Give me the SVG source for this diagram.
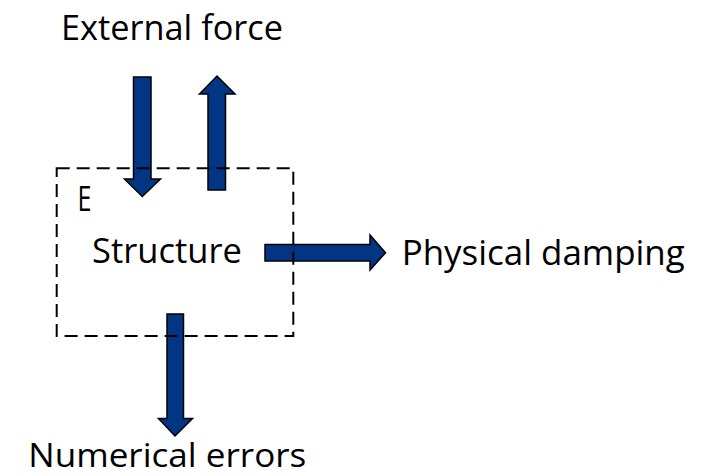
<svg xmlns="http://www.w3.org/2000/svg" width="708" height="476" viewBox="0 0 708 476">
<style>
.t{font-family:"Open Sans","Noto Sans","Liberation Sans",sans-serif;font-size:34px;fill:#000}
.a{fill:#023685;stroke:#000;stroke-width:1.5;stroke-linejoin:miter}
.box{fill:none;stroke:#000;stroke-width:2;stroke-dasharray:13 7}
</style>
<rect width="708" height="476" fill="#fff"/>
<g id="connectors">
<polygon class="a" points="133.5,77 151,77 151,179 160.5,179 142.3,196.5 124.5,179 133.5,179"/>
<polygon class="a" points="208,190 225.5,190 225.5,94 235,94 217,76 199.5,94 208,94"/>
<polygon class="a" points="265,244.5 370,244.5 370,235 385.5,252.7 370,270 370,261 265,261"/>
<polygon class="a" points="167,314 183.5,314 183.5,418.5 192.5,418.5 175,436 158.5,418.5 167,418.5"/>
</g>
<g id="structure">
<rect class="box" x="56.7" y="168.3" width="236.6" height="167.7"/>
<text class="t" x="77.5" y="210.5" textLength="14" lengthAdjust="spacingAndGlyphs">E</text>
<text class="t" x="92" y="263.3" textLength="150" lengthAdjust="spacingAndGlyphs">Structure</text>
</g>
<g id="external-force">
<text class="t" x="61" y="40" textLength="222" lengthAdjust="spacingAndGlyphs">External force</text>
</g>
<g id="physical-damping">
<text class="t" x="401.7" y="265" textLength="283" lengthAdjust="spacingAndGlyphs">Physical damping</text>
</g>
<g id="numerical-errors">
<text class="t" x="28.3" y="466.5" font-size="32" style="font-size:32px" textLength="278" lengthAdjust="spacingAndGlyphs">Numerical errors</text>
</g>
</svg>
